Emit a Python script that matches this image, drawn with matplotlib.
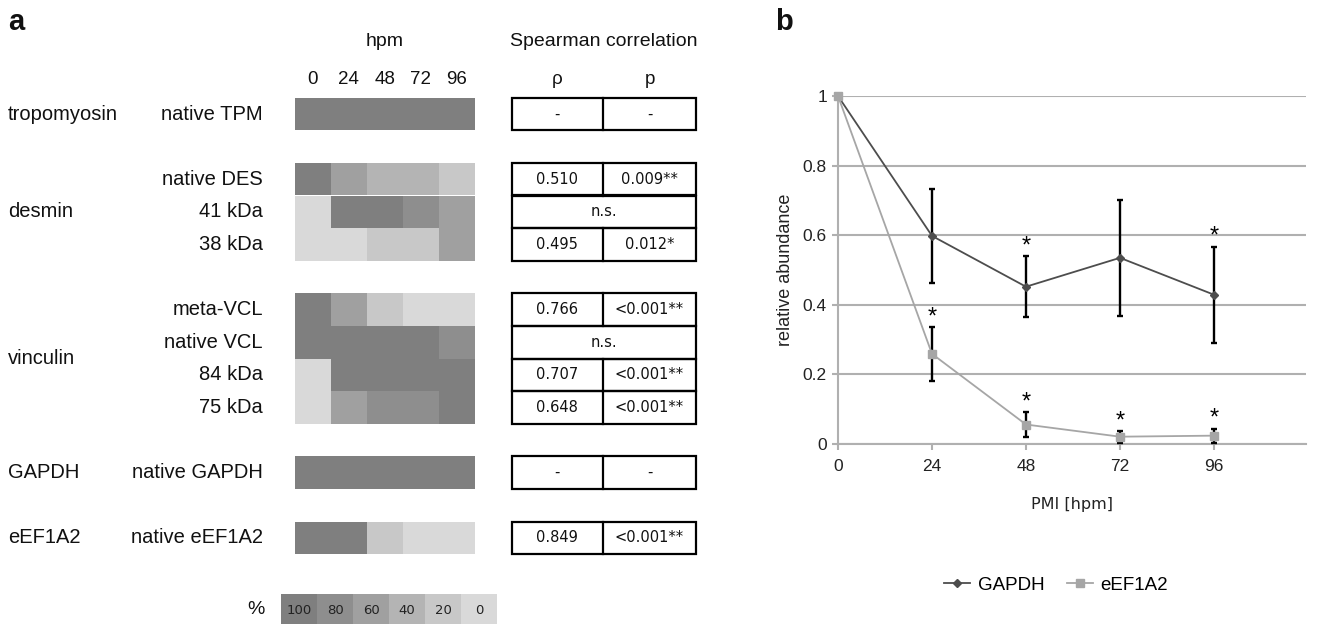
import matplotlib
matplotlib.use("Agg")
import matplotlib.pyplot as plt
from matplotlib.patches import Rectangle

plt.rcParams['font.family'] = ['Liberation Sans', 'DejaVu Sans']

# ---- data: panel a ----
hours = [0, 24, 48, 72, 96]
group_names = ["tropomyosin", "desmin", "vinculin", "GAPDH", "eEF1A2"]
row_names = ["native TPM", "native DES", "41 kDa", "38 kDa", "meta-VCL",
             "native VCL", "84 kDa", "75 kDa", "native GAPDH", "native eEF1A2"]
# percent level of each band per time point
levels = [
    [100, 100, 100, 100, 100],
    [100, 60, 40, 40, 20],
    [0, 100, 100, 80, 60],
    [0, 0, 20, 20, 60],
    [100, 60, 20, 0, 0],
    [100, 100, 100, 100, 80],
    [0, 100, 100, 100, 100],
    [0, 60, 80, 80, 100],
    [100, 100, 100, 100, 100],
    [100, 100, 20, 0, 0],
]
rho_vals = ["-", "0.510", "n.s.", "0.495", "0.766", "n.s.", "0.707", "0.648", "-", "0.849"]
p_vals = ["-", "0.009**", None, "0.012*", "<0.001**", None, "<0.001**", "<0.001**", "-", "<0.001**"]
scale_levels = [100, 80, 60, 40, 20, 0]

# ---- data: panel b ----
pmi = [0, 24, 48, 72, 96]
gapdh = [1.0, 0.598, 0.452, 0.535, 0.429]
gapdh_err = [0, 0.136, 0.087, 0.166, 0.138]
eef = [1.0, 0.259, 0.056, 0.021, 0.024]
eef_err = [0, 0.077, 0.035, 0.017, 0.020]
gapdh_sig = [False, False, True, False, True]
eef_sig = [False, True, True, True, True]

# gray for each percent level
level_gray = {100: "#7f7f7f", 80: "#8e8e8e", 60: "#a0a0a0",
              40: "#b4b4b4", 20: "#c8c8c8", 0: "#d9d9d9"}

# layout (pixels on a 1326x624 canvas)
row_slots = [0, 2, 3, 4, 6, 7, 8, 9, 11, 13]
group_slots = [0, 3, 7.5, 11, 13]
top0, slot_h = 97.7, 32.6
heat_x0, cell_w = 294.5, 36.1
tab_x0, tab_mid, tab_x1 = 511.5, 603, 696

fig = plt.figure(figsize=(13.26, 6.24), dpi=100)
axa = fig.add_axes([0, 0, 1, 1])
axa.set_xlim(0, 1326)
axa.set_ylim(624, 0)
axa.axis('off')

txt = "#111111"
axa.text(8, 22, "a", fontsize=21, fontweight='bold', va='center', color=txt)
axa.text(775, 22, "b", fontsize=21, fontweight='bold', va='center', color=txt)

axa.text(heat_x0 + 2.5 * cell_w, 42, "hpm", fontsize=14, ha='center', va='center', color=txt)
for j, h in enumerate(hours):
    axa.text(heat_x0 + (j + 0.5) * cell_w, 80, str(h), fontsize=13.5,
             ha='center', va='center', color=txt)

axa.text((tab_x0 + tab_x1) / 2, 42, "Spearman correlation", fontsize=14,
         ha='center', va='center', color=txt)
axa.text((tab_x0 + tab_mid) / 2, 80, "ρ", fontsize=13.5, ha='center', va='center', color=txt)
axa.text((tab_mid + tab_x1) / 2, 80, "p", fontsize=13.5, ha='center', va='center', color=txt)

for g, s in zip(group_names, group_slots):
    axa.text(8, top0 + s * slot_h + slot_h / 2, g, fontsize=14.5, ha='left', va='center', color=txt)

cell_fs = 10.5
for i, name in enumerate(row_names):
    y0 = top0 + row_slots[i] * slot_h
    yc = y0 + slot_h / 2
    axa.text(263, yc, name, fontsize=14.5, ha='right', va='center', color=txt)
    for j, lv in enumerate(levels[i]):
        axa.add_patch(Rectangle((heat_x0 + j * cell_w, y0), cell_w, slot_h,
                                facecolor=level_gray[lv], edgecolor='none'))
    axa.add_patch(Rectangle((tab_x0, y0), tab_x1 - tab_x0, slot_h,
                            facecolor='none', edgecolor='black', lw=1.6))
    if p_vals[i] is None:
        axa.text((tab_x0 + tab_x1) / 2, yc, rho_vals[i], family='DejaVu Sans',
                 fontsize=cell_fs, ha='center', va='center', color=txt)
    else:
        axa.plot([tab_mid, tab_mid], [y0, y0 + slot_h], color='black', lw=1.6)
        axa.text((tab_x0 + tab_mid) / 2, yc, rho_vals[i], family='DejaVu Sans',
                 fontsize=cell_fs, ha='center', va='center', color=txt)
        axa.text((tab_mid + tab_x1) / 2, yc, p_vals[i], family='DejaVu Sans',
                 fontsize=cell_fs, ha='center', va='center', color=txt)

# colour scale
axa.text(256, 610, "%", fontsize=14, ha='center', va='center', color=txt)
for k, lv in enumerate(scale_levels):
    axa.add_patch(Rectangle((281 + k * 36, 594.3), 36, 32,
                            facecolor=level_gray[lv], edgecolor='none'))
    axa.text(281 + k * 36 + 18, 610, str(lv), family='DejaVu Sans', fontsize=9.5,
             ha='center', va='center', color="#222222")

# ---- panel b ----
axb = fig.add_axes([838 / 1326, 1 - 444 / 624, 468 / 1326, 348 / 624])
grid_c = "#b0b0b0"
axb.set_xlim(0, 119.5)
axb.set_ylim(0, 1)
axb.set_yticks([0, 0.2, 0.4, 0.6, 0.8, 1])
axb.set_yticklabels(["0", "0.2", "0.4", "0.6", "0.8", "1"])
axb.set_xticks(pmi)
axb.yaxis.grid(True, color=grid_c, lw=1.5)
axb.set_axisbelow(True)
for side in ['top', 'right']:
    axb.spines[side].set_visible(False)
for side in ['left', 'bottom']:
    axb.spines[side].set_color(grid_c)
    axb.spines[side].set_linewidth(1.5)
axb.tick_params(axis='both', colors=grid_c, length=4, width=1.5, labelsize=12.5,
                labelcolor="#222222")
axb.tick_params(axis='y', pad=4)
axb.tick_params(axis='x', pad=7)

axb.errorbar(pmi, gapdh, yerr=gapdh_err, color='#4d4d4d', lw=1.3, marker='D',
             markersize=4.5, ecolor='black', elinewidth=1.7, capsize=2.5,
             capthick=1.7, label="GAPDH", clip_on=False, zorder=3)
axb.errorbar(pmi, eef, yerr=eef_err, color='#a6a6a6', lw=1.3, marker='s',
             markersize=5.5, ecolor='black', elinewidth=1.7, capsize=2.5,
             capthick=1.7, label="eEF1A2", clip_on=False, zorder=4)

for x, v, e, s in zip(pmi, gapdh, gapdh_err, gapdh_sig):
    if s:
        axb.annotate("*", (x, v + e), xytext=(0, 7), textcoords='offset points',
                     ha='center', va='center', fontsize=17, color='black')
for x, v, e, s in zip(pmi, eef, eef_err, eef_sig):
    if s:
        axb.annotate("*", (x, v + e), xytext=(0, 7), textcoords='offset points',
                     ha='center', va='center', fontsize=17, color='black')

axb.set_ylabel("relative abundance", fontsize=13, color="#222222", labelpad=6)
axb.set_xlabel("PMI [hpm]", family='DejaVu Sans', fontsize=11.5, color="#222222", labelpad=16)

handles, labels = axb.get_legend_handles_labels()
handles = [h[0] for h in handles]
fig.legend(handles, labels, loc='center', bbox_to_anchor=(1056 / 1326, 1 - 585 / 624),
           ncol=2, frameon=False, fontsize=13.5, handlelength=1.4,
           handletextpad=0.4, columnspacing=1.2)

fig.savefig("out.png", dpi=100)
